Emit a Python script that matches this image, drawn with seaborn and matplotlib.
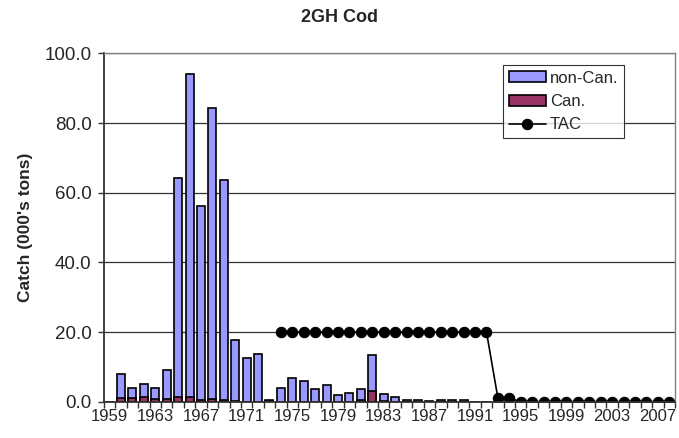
import numpy as np
import pandas as pd
import matplotlib
matplotlib.use("Agg")
import matplotlib.pyplot as plt
import seaborn as sns
from matplotlib.ticker import FixedLocator, FormatStrFormatter

# catch data, 000's tons, 1959-2008
years = [str(y) for y in range(1959, 2009)]
non_can = [0.0, 7.0, 3.0, 3.7, 3.1, 8.3, 63.0, 92.8, 55.7, 83.7,
           63.1, 17.7, 12.6, 13.8, 0.3, 3.9, 6.8, 5.8, 3.5, 4.7,
           1.9, 2.6, 3.0, 10.3, 2.1, 1.4, 0.5, 0.5, 0.2, 0.5,
           0.5, 0.5, 0.0, 0.0, 0.0, 0.0, 0.0, 0.0, 0.0, 0.0,
           0.0, 0.0, 0.0, 0.0, 0.0, 0.0, 0.0, 0.0, 0.0, 0.0]
can = [0.0, 1.0, 1.0, 1.3, 0.9, 0.9, 1.3, 1.4, 0.6, 0.7,
       0.5, 0.1, 0.0, 0.0, 0.1, 0.0, 0.0, 0.0, 0.0, 0.0,
       0.0, 0.0, 0.5, 3.1, 0.1, 0.0, 0.0, 0.0, 0.0, 0.0,
       0.0, 0.0, 0.0, 0.0, 0.0, 0.0, 0.0, 0.0, 0.0, 0.0,
       0.0, 0.0, 0.0, 0.0, 0.0, 0.0, 0.0, 0.0, 0.0, 0.0]
tac = [np.nan] * 15 + [20.0] * 19 + [1.0, 1.0] + [0.0] * 14

df = pd.DataFrame({"Year": years, "nonCan": non_can, "Can": can, "TAC": tac})
df["total"] = df["nonCan"] + df["Can"]

sns.set_style("white")
plt.rcParams["font.family"] = ["Liberation Sans", "DejaVu Sans"]

fig = plt.figure(figsize=(6.79, 4.38), dpi=100)
ax = fig.add_axes([0.153, 0.083, 0.841, 0.795])

# stacked bars: total in blue, Canadian part on top of it from the base
sns.barplot(data=df, x="Year", y="total", color="#9999FF", saturation=1,
            width=0.7, edgecolor="black", linewidth=1.2, ax=ax, label="non-Can.")
sns.barplot(data=df, x="Year", y="Can", color="#993366", saturation=1,
            width=0.7, edgecolor="black", linewidth=1.2, ax=ax, label="Can.")
sns.lineplot(x=np.arange(len(years)), y=df["TAC"], color="black", marker="o",
             markersize=7.5, markeredgecolor="black", linewidth=1.2, ax=ax,
             label="TAC")

ax.set_ylim(0, 100)
ax.set_xlim(-0.5, len(years) - 0.5)
ax.set_yticks([0, 20, 40, 60, 80, 100])
ax.yaxis.set_major_formatter(FormatStrFormatter("%.1f"))
ax.set_xticks(range(0, len(years), 4))
ax.set_xticklabels(years[::4])
ax.xaxis.set_minor_locator(FixedLocator(np.arange(-0.5, len(years), 1)))
ax.tick_params(axis="x", which="major", length=0, labelsize=12, pad=5)
ax.tick_params(axis="x", which="minor", length=4, width=1, color="#333333",
               bottom=True)
ax.tick_params(axis="y", length=4, width=1, color="#333333", labelsize=13.5,
               left=True, pad=5)

ax.grid(axis="y", color="#333333", linewidth=0.9)
ax.set_axisbelow(True)
for s in ["left", "bottom"]:
    ax.spines[s].set_color("#333333")
    ax.spines[s].set_linewidth(1.3)
for s in ["top", "right"]:
    ax.spines[s].set_color("#808080")
    ax.spines[s].set_linewidth(1)

ax.set_xlabel("")
ax.set_ylabel("Catch (000's tons)", fontsize=12.5, fontweight="bold")
ax.yaxis.set_label_coords(-0.124, 0.5)
fig.text(0.5, 1 - 18 / 438, "2GH Cod", ha="center", va="center",
         fontsize=13, fontweight="bold")

handles, labels = ax.get_legend_handles_labels()
order = [labels.index(n) for n in ["non-Can.", "Can.", "TAC"]]
leg = ax.legend([handles[i] for i in order], [labels[i] for i in order],
                loc="upper right", bbox_to_anchor=(0.911, 0.967), fontsize=12,
                frameon=True, fancybox=False, edgecolor="black",
                handlelength=2.2, handleheight=0.65, handletextpad=0.25,
                borderpad=0.35, labelspacing=0.5, borderaxespad=0)
leg.get_frame().set_linewidth(0.8)

fig.savefig("out.png", dpi=100)
